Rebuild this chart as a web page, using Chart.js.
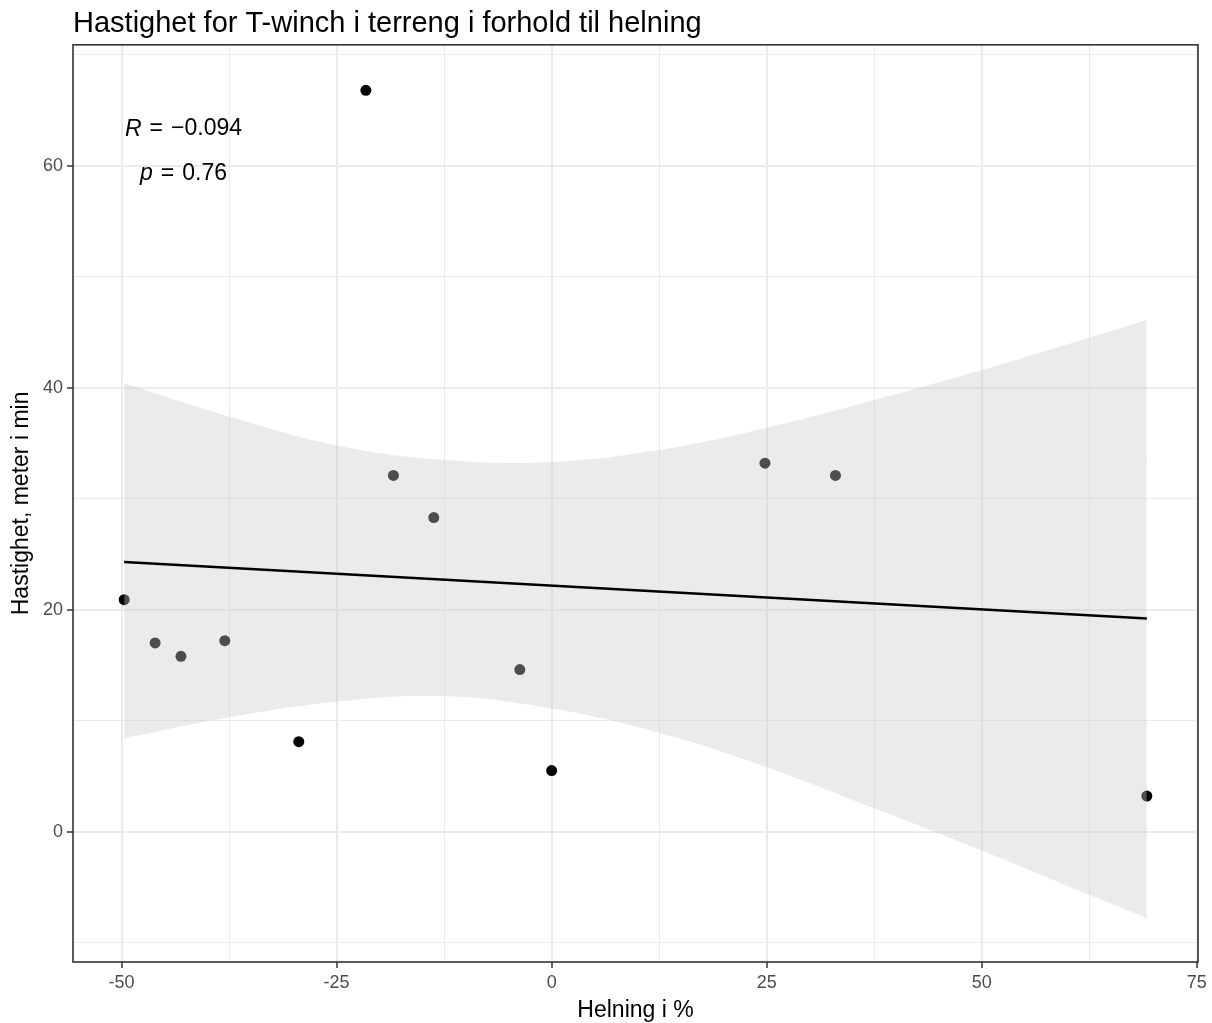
<!DOCTYPE html>
<html>
<head>
<meta charset="utf-8">
<script src="https://cdn.jsdelivr.net/npm/chart.js@4.4.1/dist/chart.umd.min.js"></script>
<style>
  html, body { margin: 0; padding: 0; background: #fff; }
  #wrap { width: 1212px; height: 1023px; }
</style>
</head>
<body>
<div id="wrap"><canvas id="slopeChart"></canvas></div>
<script>
// measured points: slope (%) vs speed (m/min)
const slopePct = [-49.7, -46.1, -43.1, -38.0, -29.4, -21.6, -18.4, -13.7, -3.7, 0.0, 24.8, 33.0, 69.2];
const speedMpm = [20.9, 17.0, 15.8, 17.2, 8.1, 66.8, 32.1, 28.3, 14.6, 5.5, 33.2, 32.1, 3.2];

// linear fit + 95% band
const fitX = [-49.7, 69.2];
const fitY = [24.3, 19.2];
const bandX = [-49.7, -37.5, -25, -12.5, 0, 12.5, 25, 37.5, 50, 62.5, 69.2];
const bandUpper = [40.4, 37.4, 34.8, 33.5, 33.3, 34.4, 36.4, 38.9, 41.6, 44.5, 46.1];
const bandLower = [8.4, 10.3, 11.7, 12.2, 11.1, 8.9, 5.8, 2.1, -1.7, -5.7, -7.8];

const xMajor = [-50, -25, 0, 25, 50, 75];
const xMinor = [-37.5, -12.5, 12.5, 37.5, 62.5];
const yMajor = [0, 20, 40, 60];
const yMinor = [-10, 10, 30, 50, 70];

const corLines = ['R', 'p'];
const corValues = ['\u22120.094', '0.76'];
const corX = -42.8;
const corY = [63.3, 59.3];

const FONT = '"Liberation Sans", Arial, sans-serif';

const toXY = (xs, ys) => xs.map((x, i) => ({ x: x, y: ys[i] }));

const panelBorder = {
  id: 'panelBorder',
  afterDraw(chart) {
    const a = chart.chartArea;
    const ctx = chart.ctx;
    ctx.save();
    ctx.strokeStyle = '#333333';
    ctx.lineWidth = 1.6;
    ctx.strokeRect(a.left, a.top, a.right - a.left, a.bottom - a.top);
    ctx.restore();
  }
};

const corLabel = {
  id: 'corLabel',
  afterDatasetsDraw(chart) {
    const ctx = chart.ctx;
    const xs = chart.scales.x, ys = chart.scales.y;
    const cx = xs.getPixelForValue(corX);
    const gap = 8;
    ctx.save();
    ctx.fillStyle = '#000';
    ctx.textBaseline = 'middle';
    ctx.textAlign = 'left';
    corLines.forEach((sym, i) => {
      const cy = ys.getPixelForValue(corY[i]);
      ctx.font = 'italic 23px ' + FONT;
      const w1 = ctx.measureText(sym).width;
      ctx.font = '23px ' + FONT;
      const w2 = ctx.measureText('=').width;
      const w3 = ctx.measureText(corValues[i]).width;
      let x = cx - (w1 + w2 + w3 + 2 * gap) / 2;
      ctx.font = 'italic 23px ' + FONT;
      ctx.fillText(sym, x, cy);
      x += w1 + gap;
      ctx.font = '23px ' + FONT;
      ctx.fillText('=', x, cy);
      x += w2 + gap;
      ctx.fillText(corValues[i], x, cy);
    });
    ctx.restore();
  }
};

const isMajor = (list, v) => list.some(m => Math.abs(m - v) < 1e-6);

new Chart(document.getElementById('slopeChart'), {
  type: 'scatter',
  data: {
    datasets: [
      {
        label: 'lm',
        data: toXY(fitX, fitY),
        showLine: true,
        borderColor: '#000000',
        borderWidth: 2.6,
        pointRadius: 0,
        fill: false,
        order: 1
      },
      {
        label: 'lower',
        data: toXY(bandX, bandLower),
        showLine: true,
        borderWidth: 0,
        borderColor: 'rgba(0,0,0,0)',
        pointRadius: 0,
        tension: 0.4,
        fill: false,
        order: 2
      },
      {
        label: 'upper',
        data: toXY(bandX, bandUpper),
        showLine: true,
        borderWidth: 0,
        borderColor: 'rgba(0,0,0,0)',
        pointRadius: 0,
        tension: 0.4,
        fill: { target: 1 },
        backgroundColor: 'rgba(203,203,203,0.38)',
        order: 2
      },
      {
        label: 'obs',
        data: toXY(slopePct, speedMpm),
        pointRadius: 5.5,
        pointBackgroundColor: '#000000',
        pointBorderWidth: 0,
        order: 3
      }
    ]
  },
  options: {
    responsive: true,
    maintainAspectRatio: false,
    animation: false,
    layout: { padding: { left: 0, right: 14, top: 0, bottom: 0 } },
    plugins: {
      legend: { display: false },
      tooltip: { enabled: false },
      title: {
        display: true,
        fullSize: false,
        align: 'start',
        text: 'Hastighet for T-winch i terreng i forhold til helning',
        color: '#000000',
        font: { family: FONT, size: 29, weight: 'normal' },
        padding: { top: 7, bottom: 3 }
      }
    },
    scales: {
      x: {
        type: 'linear',
        min: -55.65,
        max: 75.15,
        afterBuildTicks: axis => { axis.ticks = xMinor.concat(xMajor).sort((a, b) => a - b).map(v => ({ value: v })); },
        afterFit: axis => { axis.height = 61; },
        border: { display: false },
        grid: {
          color: '#ebebeb',
          lineWidth: c => isMajor(xMajor, c.tick.value) ? 2 : 1,
          tickColor: c => isMajor(xMajor, c.tick.value) ? '#333333' : 'rgba(0,0,0,0)',
          tickLength: 6,
          tickWidth: 1.5
        },
        ticks: {
          autoSkip: false,
          maxRotation: 0,
          padding: 4,
          color: '#4d4d4d',
          font: { family: FONT, size: 18 },
          callback: v => isMajor(xMajor, v) ? String(v) : ''
        },
        title: {
          display: true,
          text: 'Helning i %',
          color: '#000000',
          font: { family: FONT, size: 23, lineHeight: 1.1 },
          padding: { top: 0, bottom: 0 }
        }
      },
      y: {
        type: 'linear',
        min: -11.75,
        max: 70.9,
        afterBuildTicks: axis => { axis.ticks = yMinor.concat(yMajor).sort((a, b) => a - b).map(v => ({ value: v })); },
        afterFit: axis => { axis.width = 73; },
        border: { display: false },
        grid: {
          color: '#ebebeb',
          lineWidth: c => isMajor(yMajor, c.tick.value) ? 2 : 1,
          tickColor: c => isMajor(yMajor, c.tick.value) ? '#333333' : 'rgba(0,0,0,0)',
          tickLength: 6,
          tickWidth: 1.5
        },
        ticks: {
          autoSkip: false,
          padding: 4,
          color: '#4d4d4d',
          font: { family: FONT, size: 18 },
          callback: v => isMajor(yMajor, v) ? String(v) : ''
        },
        title: {
          display: true,
          text: 'Hastighet, meter i min',
          color: '#000000',
          font: { family: FONT, size: 23, lineHeight: 1.1 },
          padding: { top: 9, bottom: 0 }
        }
      }
    }
  },
  plugins: [panelBorder, corLabel]
});
</script>
</body>
</html>
